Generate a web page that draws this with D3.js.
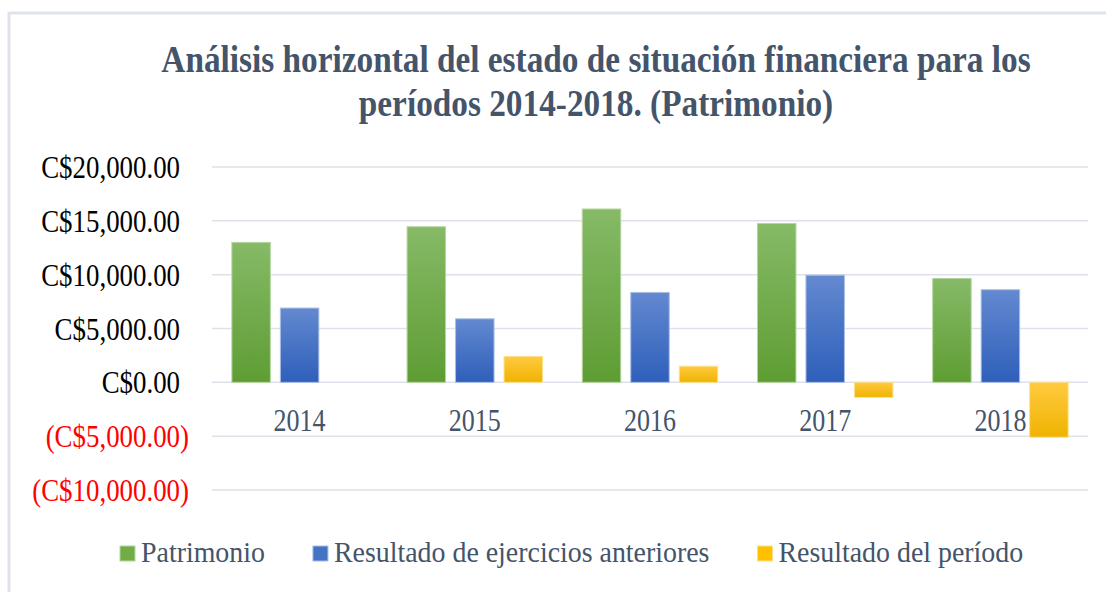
<!DOCTYPE html>
<html>
<head>
<meta charset="utf-8">
<script src="https://cdn.jsdelivr.net/npm/d3@7"></script>
<style>
  body { margin: 0; background: #fff; }
  svg { display: block; }
  text { font-family: "Liberation Serif", "Times New Roman", serif; }
</style>
</head>
<body>
<div id="chart"></div>
<script>
const years = ["2014", "2015", "2016", "2017", "2018"];
const seriesNames = ["Patrimonio", "Resultado de ejercicios anteriores", "Resultado del período"];
const patrimonio = [13000, 14450, 16100, 14750, 9650];
const resultadoAnteriores = [6900, 5900, 8350, 9950, 8600];
const resultadoPeriodo = [0, 2400, 1500, -1400, -5100];
const yTicks = [-10000, -5000, 0, 5000, 10000, 15000, 20000];
const titleLines = ["Análisis horizontal del estado de situación financiera para los",
                    "períodos 2014-2018. (Patrimonio)"];

const W = 1106, H = 592;
const SX = 0.84;        // axis text is a bit condensed in the original
const SX_TITLE = 0.9;
const SX_LEGEND = 0.93;
const colors = [
    {top: "#86ba67", bottom: "#5e9d33", edge: "#b5d6a0", legend: "#70ad47"},
    {top: "#6389d0", bottom: "#2e5fba", edge: "#a9bde6", legend: "#4472c4"},
    {top: "#ffca40", bottom: "#efb300", edge: "#ffe08a", legend: "#ffc000"}
];

function init() {
    const seriesValues = [patrimonio, resultadoAnteriores, resultadoPeriodo];
    const data = years.map((y, i) => ({
        year: y,
        values: seriesValues.map((s, k) => ({key: k, value: s[i]}))
    }));

    const svg = d3.select("#chart").append("svg")
        .attr("width", W)
        .attr("height", H);

    // frame (only top and left edges show in the picture)
    svg.append("line").attr("x1", 9).attr("x2", W).attr("y1", 13).attr("y2", 13)
        .attr("stroke", "#dfe3eb").attr("stroke-width", 3);
    svg.append("line").attr("x1", 9).attr("x2", 9).attr("y1", 12).attr("y2", H)
        .attr("stroke", "#dfe3eb").attr("stroke-width", 3);

    // gradients
    const defs = svg.append("defs");
    colors.forEach((c, i) => {
        const g = defs.append("linearGradient").attr("id", "grad" + i)
            .attr("x1", 0).attr("y1", 0).attr("x2", 0).attr("y2", 1);
        g.append("stop").attr("offset", "0%").attr("stop-color", c.top);
        g.append("stop").attr("offset", "100%").attr("stop-color", c.bottom);
    });

    const x0 = d3.scaleBand().domain(years).range([212, 1088]).paddingInner(0).paddingOuter(0);
    const x1 = d3.scaleBand().domain([0, 1, 2]).range([0, x0.bandwidth()])
        .paddingInner(0.206).paddingOuter(0.41);
    const y = d3.scaleLinear().domain([-10000, 20000]).range([490, 167]);

    // gridlines
    svg.append("g").selectAll("line")
        .data(yTicks)
        .join("line")
        .attr("x1", 212).attr("x2", 1088)
        .attr("y1", d => y(d)).attr("y2", d => y(d))
        .attr("stroke", "#dde2ea").attr("stroke-width", 1.5);

    // y labels, accounting style: negatives in red parentheses
    const fmt = d3.format(",.2f");
    const yl = svg.append("g").selectAll("text")
        .data(yTicks)
        .join("text")
        .attr("transform", d => `translate(189,${y(d) + 11}) scale(${SX},1)`)
        .attr("text-anchor", "end")
        .style("font-size", "32px")
        .attr("fill", d => d < 0 ? "#ff0000" : "#000");
    yl.append("tspan").text(d => d < 0 ? "(C$" + fmt(-d) : "C$" + fmt(d));
    yl.append("tspan").text(")").attr("fill-opacity", d => d < 0 ? 1 : 0);

    // bars
    const groups = svg.append("g").selectAll("g")
        .data(data)
        .join("g")
        .attr("transform", d => `translate(${x0(d.year)},0)`);
    groups.selectAll("rect")
        .data(d => d.values.filter(v => v.value !== 0))
        .join("rect")
        .attr("x", d => x1(d.key))
        .attr("width", x1.bandwidth())
        .attr("y", d => y(Math.max(0, d.value)))
        .attr("height", d => Math.abs(y(d.value) - y(0)))
        .attr("fill", d => `url(#grad${d.key})`)
        .attr("stroke", d => colors[d.key].edge)
        .attr("stroke-width", 1);

    // category labels
    svg.append("g").selectAll("text")
        .data(years)
        .join("text")
        .attr("transform", d => `translate(${x0(d) + x0.bandwidth() / 2},431) scale(${SX},1)`)
        .attr("text-anchor", "middle")
        .style("font-size", "31px")
        .attr("fill", "#44546a")
        .text(d => d);

    // title
    svg.append("g").selectAll("text")
        .data(titleLines)
        .join("text")
        .attr("transform", (d, i) => `translate(596,${72 + i * 44}) scale(${SX_TITLE},1)`)
        .attr("text-anchor", "middle")
        .style("font-size", "37px")
        .style("font-weight", "bold")
        .attr("fill", "#44546a")
        .text(d => d);

    // legend
    const legend = svg.append("g");
    let lx = 120;
    seriesNames.forEach((name, i) => {
        legend.append("rect")
            .attr("x", lx).attr("y", 546)
            .attr("width", 15).attr("height", 15)
            .attr("fill", colors[i].legend)
            .attr("stroke", colors[i].edge).attr("stroke-width", 1);
        const t = legend.append("text")
            .attr("transform", `translate(${lx + 21},562) scale(${SX_LEGEND},1)`)
            .style("font-size", "30px")
            .attr("fill", "#44546a")
            .text(name);
        lx += 21 + t.node().getComputedTextLength() * SX_LEGEND + 48;
    });
}

window.addEventListener("load", init);
</script>
</body>
</html>
